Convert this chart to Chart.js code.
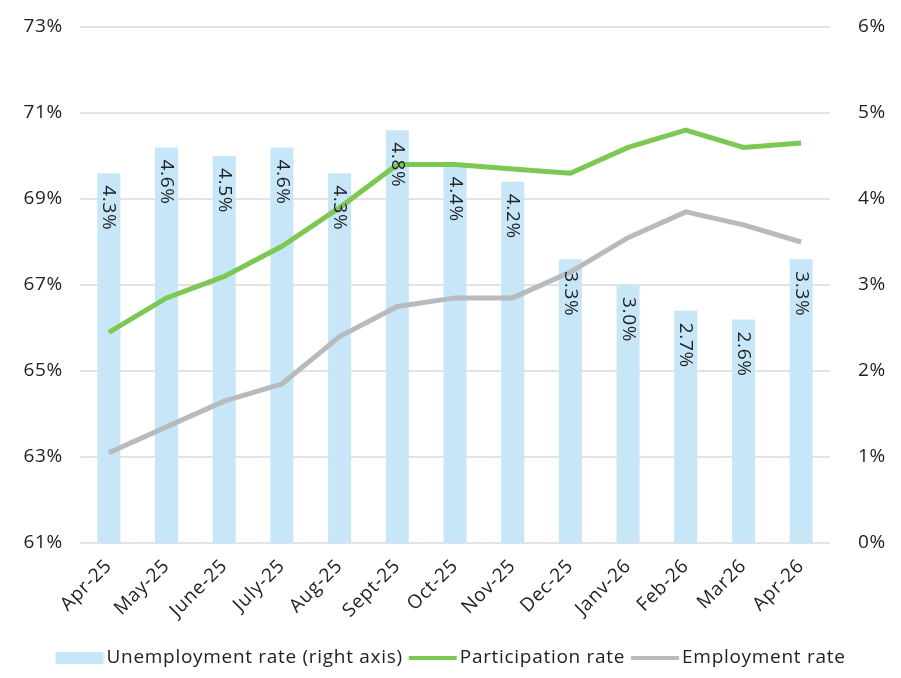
<!DOCTYPE html>
<html>
<head>
<meta charset="utf-8">
<script src="https://cdn.jsdelivr.net/npm/chart.js@4"></script>
<style>
html,body{margin:0;padding:0;background:#fff;}
#wrap{width:901px;height:678px;}
</style>
</head>
<body>
<div id="wrap"><canvas id="c" width="901" height="678"></canvas></div>
<script>
const categories = ['Apr-25','May-25','June-25','July-25','Aug-25','Sept-25','Oct-25','Nov-25','Dec-25','Janv-26','Feb-26','Mar26','Apr-26'];
const unemploymentRate = [4.3,4.6,4.5,4.6,4.3,4.8,4.4,4.2,3.3,3.0,2.7,2.6,3.3];
const participationRate = [65.9,66.7,67.2,67.9,68.8,69.8,69.8,69.7,69.6,70.2,70.6,70.2,70.3];
const employmentRate = [63.1,63.7,64.3,64.7,65.8,66.5,66.7,66.7,67.3,68.1,68.7,68.4,68.0];
const leftTicks = [61,63,65,67,69,71,73];
const rightTicks = [0,1,2,3,4,5,6];

const FONT = "'Open Sans', Lato, sans-serif";
const SPACING = '0.7px';

const spacingPlugin = {
  id:'spacing',
  beforeUpdate(chart){ chart.ctx.letterSpacing = SPACING; },
  beforeDraw(chart){ chart.ctx.letterSpacing = SPACING; }
};

const barLabels = {
  id:'barLabels',
  afterDatasetsDraw(chart){
    const ctx = chart.ctx;
    const meta = chart.getDatasetMeta(0);
    ctx.save();
    ctx.letterSpacing = SPACING;
    ctx.font = "19px " + FONT;
    ctx.fillStyle = '#222';
    ctx.textAlign = 'left';
    ctx.textBaseline = 'middle';
    meta.data.forEach((el,i)=>{
      ctx.save();
      ctx.translate(el.x, el.y + 12);
      ctx.rotate(Math.PI/2);
      ctx.fillText(unemploymentRate[i].toFixed(1) + '%', 0, 0);
      ctx.restore();
    });
    ctx.restore();
  }
};

const customLegend = {
  id:'customLegend',
  afterDraw(chart){
    const ctx = chart.ctx;
    const ds = chart.data.datasets;
    ctx.save();
    ctx.letterSpacing = SPACING;
    ctx.font = "19px " + FONT;
    ctx.textBaseline = 'middle';
    ctx.textAlign = 'left';
    const boxW = 48, gap = 3, itemGap = 6, cy = 658;
    const widths = ds.map(d => boxW + gap + ctx.measureText(d.label).width);
    const total = widths.reduce((a,b)=>a+b,0) + itemGap*(ds.length-1);
    let x = chart.width/2 - total/2;
    ds.forEach((d,i)=>{
      if (d.type === 'bar') {
        ctx.fillStyle = d.backgroundColor;
        ctx.fillRect(x, cy-6, boxW, 12);
      } else {
        ctx.strokeStyle = d.borderColor;
        ctx.lineWidth = 4;
        ctx.beginPath();
        ctx.moveTo(x, cy); ctx.lineTo(x+boxW, cy);
        ctx.stroke();
      }
      ctx.fillStyle = '#222';
      ctx.fillText(d.label, x + boxW + gap, cy);
      x += widths[i] + itemGap;
    });
    ctx.restore();
  }
};

new Chart(document.getElementById('c'), {
  data: {
    labels: categories,
    datasets: [
      {type:'bar', label:'Unemployment rate (right axis)', data: unemploymentRate, yAxisID:'y1',
       backgroundColor:'#C7E7F8', barPercentage:0.8, categoryPercentage:0.5, order:3},
      {type:'line', label:'Participation rate', data: participationRate, yAxisID:'y',
       borderColor:'#7DC852', borderWidth:5, pointRadius:0, tension:0, order:1},
      {type:'line', label:'Employment rate', data: employmentRate, yAxisID:'y',
       borderColor:'#B7BBBF', borderWidth:5, pointRadius:0, tension:0, order:2}
    ]
  },
  options: {
    responsive:false,
    animation:false,
    layout:{padding:{left:0,right:0,top:27,bottom:0}},
    plugins:{
      tooltip:{enabled:false},
      legend:{display:false}
    },
    scales:{
      x:{
        grid:{display:false},
        border:{display:false},
        ticks:{font:{family:FONT,size:19},color:'#222',maxRotation:45,minRotation:45,padding:4},
        afterFit(ax){ ax.height = 135; ax.paddingLeft = 0; ax.paddingRight = 0; }
      },
      y:{
        position:'left', min:61, max:73,
        afterBuildTicks(ax){ ax.ticks = leftTicks.map(v=>({value:v})); },
        grid:{color:'#E3E3E3',lineWidth:2,drawTicks:false},
        border:{display:false},
        ticks:{font:{family:FONT,size:19},color:'#222',padding:17,callback:v=>v+'%'},
        afterFit(ax){ ax.width = 80; ax.paddingTop = 0; ax.paddingBottom = 0; }
      },
      y1:{
        position:'right', min:0, max:6,
        afterBuildTicks(ax){ ax.ticks = rightTicks.map(v=>({value:v})); },
        grid:{display:false},
        border:{display:false},
        ticks:{font:{family:FONT,size:19},color:'#222',padding:20,callback:v=>v+'%'},
        afterFit(ax){ ax.width = 71; ax.paddingTop = 0; ax.paddingBottom = 0; }
      }
    }
  },
  plugins:[spacingPlugin, barLabels, customLegend]
});
</script>
</body>
</html>
